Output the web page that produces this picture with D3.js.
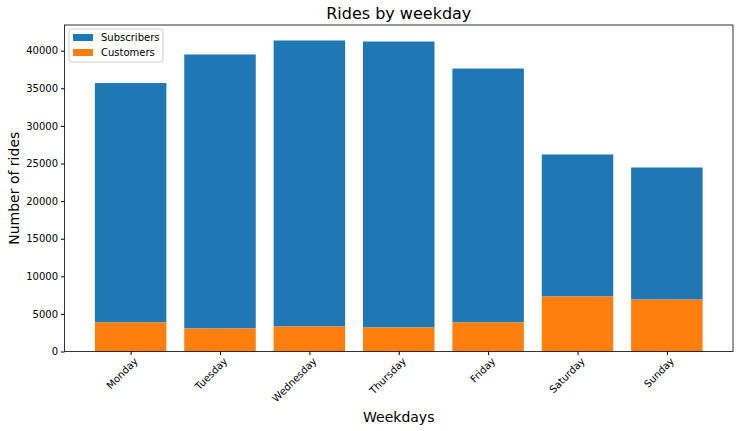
<!DOCTYPE html><html><head><script src="https://cdn.jsdelivr.net/npm/d3@7"></script>
<style>body{margin:0;background:#fff;font-family:"DejaVu Sans",sans-serif}</style></head><body><svg id="c" width="744" height="431"></svg>
<script>
const days=["Monday","Tuesday","Wednesday","Thursday","Friday","Saturday","Sunday"];
const totals=[35700,39500,41360,41220,37630,26200,24470];
const customers=[3860,3060,3320,3190,3860,7310,6900];
const subscribers=totals.map((t,i)=>t-customers[i]);
const yTicks=[0,5000,10000,15000,20000,25000,30000,35000,40000];
const svg=d3.select("#c");
const L=64.5,R=733,T=25,B=351.5;
const x=d3.scaleLinear().domain([-0.74,6.74]).range([L,R]);
const y=d3.scaleLinear().domain([0,43420]).range([B,T]);
const w=x(0.8)-x(0);
const g=svg.append("g");
g.selectAll(".s").data(days).join("rect").attr("x",(d,i)=>x(i-0.4)).attr("width",w)
 .attr("y",(d,i)=>y(totals[i])).attr("height",(d,i)=>y(customers[i])-y(totals[i])).attr("fill","#1f77b4");
g.selectAll(".c").data(days).join("rect").attr("x",(d,i)=>x(i-0.4)).attr("width",w)
 .attr("y",(d,i)=>y(customers[i])).attr("height",(d,i)=>B-y(customers[i])).attr("fill","#ff7f0e");
const ya=svg.append("g").attr("transform",`translate(${L},0)`).call(d3.axisLeft(y).tickValues(yTicks).tickFormat(d3.format("d")).tickSize(3.5).tickPadding(3));
const xa=svg.append("g").attr("transform",`translate(0,${B})`).call(d3.axisBottom(x).tickValues(d3.range(7)).tickFormat(i=>days[i]).tickSize(3.5));
[ya,xa].forEach(a=>{a.select(".domain").remove();a.selectAll("text").attr("font-size",10).attr("fill","#000").attr("font-family","DejaVu Sans");a.selectAll("line").attr("stroke","#000")});
xa.selectAll("text").attr("text-anchor","end").attr("dx","-0.2em").attr("dy","0.6em").attr("transform","rotate(-45)");
svg.append("rect").attr("x",L).attr("y",T).attr("width",R-L).attr("height",B-T).attr("fill","none").attr("stroke","#000").attr("stroke-width",0.8);
svg.append("text").attr("x",(L+R)/2).attr("y",19).attr("text-anchor","middle").attr("font-size",16).text("Rides by weekday");
svg.append("text").attr("x",(L+R)/2).attr("y",422).attr("text-anchor","middle").attr("font-size",14).text("Weekdays");
svg.append("text").attr("transform",`translate(19,${(T+B)/2}) rotate(-90)`).attr("text-anchor","middle").attr("font-size",14).text("Number of rides");
const lg=svg.append("g").attr("transform","translate(69,29)");
lg.append("rect").attr("width",94).attr("height",33).attr("fill","#fff").attr("stroke","#ccc").attr("rx",2);
[["Subscribers","#1f77b4"],["Customers","#ff7f0e"]].forEach(([t,c],i)=>{
 lg.append("rect").attr("x",4).attr("y",5+i*15).attr("width",20).attr("height",7).attr("fill",c);
 lg.append("text").attr("x",32).attr("y",12+i*15).attr("font-size",10).text(t);
});
</script></body></html>
